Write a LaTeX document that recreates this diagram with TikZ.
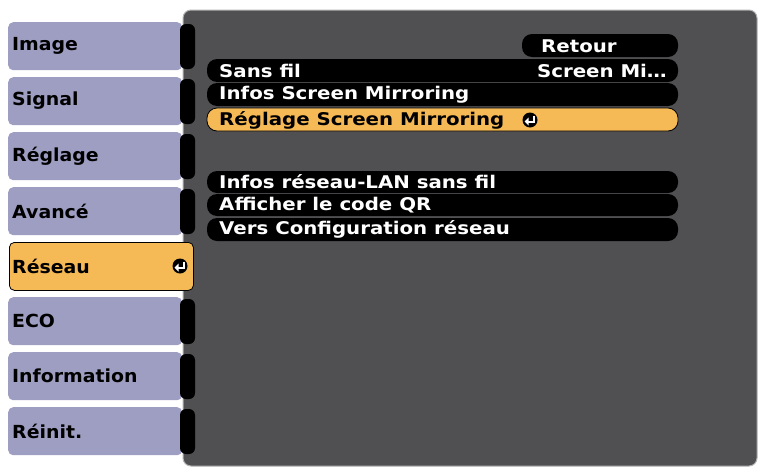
\documentclass[tikz,border=0pt]{standalone}
\usepackage{fontspec}
\setmainfont{DejaVu Sans}
\begin{document}
\begin{tikzpicture}[x=1pt,y=-1pt,
  tab/.style={fill=tabc,rounded corners=5pt,minimum width=174pt,minimum height=48pt,anchor=north west,inner sep=0pt},
  tabt/.style={font=\bfseries\fontsize{18}{18}\selectfont,anchor=west,text=black,inner sep=0pt,xscale=1.05},
  pill/.style={fill=black,rounded corners=10pt},
  rowt/.style={font=\bfseries\fontsize{17.5}{17}\selectfont,text=white,anchor=west,inner sep=0pt,xscale=1.13},
  notch/.style={fill=black,rounded corners=6pt}]
\definecolor{tabc}{HTML}{9E9EC2}
\definecolor{panel}{HTML}{505053}
\definecolor{sel}{HTML}{F5B955}
\newcommand{\entericon}[2]{%
  \fill[black] (#1,#2) circle (7.5pt);
  \draw[white,line width=2pt] (#1+3.5,#2-4.5) -- (#1+3.5,#2+1.5) -- (#1-2,#2+1.5);
  \fill[white] (#1-5.5,#2+1.5) -- (#1-1.5,#2-2.5) -- (#1-1.5,#2+5.5) -- cycle;}
\useasboundingbox (0,0) rectangle (762,471);
\fill[white] (0,0) rectangle (762,471);
% panel
\fill[panel,rounded corners=8pt,draw=gray!60,line width=1pt] (183,10) rectangle (757,466);
% tabs
\foreach \y/\t [count=\i] in {22/Image,77/Signal,132/Réglage,187/Avancé,297/ECO,352/Information,407/Réinit.}{
  \node[tab] (tab\i) at (8,\y) {};
  \node[tabt] (tabt\i) at (12,\y+24) {\t};
  \fill[notch] (180,\y+2) rectangle (195,\y+47);
}
\node[tab,fill=sel,draw=black,line width=0.8pt,minimum width=184pt] (tabsel) at (9,242) {};
\node[tabt] (tabselt) at (12,266) {Réseau};
\entericon{180}{266}
% rows
\fill[pill] (522,34) rectangle (678,57);
\node[rowt] (retour) at (541,46) {Retour};
\foreach \a/\b/\t/\r [count=\i] in {59/82/{Sans fil}/{Screen Mi\ldots},83/106/{Infos Screen Mirroring}/{},171/193/{Infos réseau-LAN sans fil}/{},194/216/{Afficher le code QR}/{},218/241/{Vers Configuration réseau}/{}}{
  \fill[pill] (207,\a) rectangle (678,\b);
  \node[rowt] (row\i) at (219,{(\a+\b)/2}) {\t};
  \node[rowt,anchor=east] (rowr\i) at (667,{(\a+\b)/2}) {\r};
}
\fill[sel,draw=black,line width=0.8pt,rounded corners=10pt] (207,108) rectangle (678,131);
\node[rowt,text=black] (rowsel) at (219,120) {Réglage Screen Mirroring};
\entericon{530}{120}
\end{tikzpicture}
\end{document}
